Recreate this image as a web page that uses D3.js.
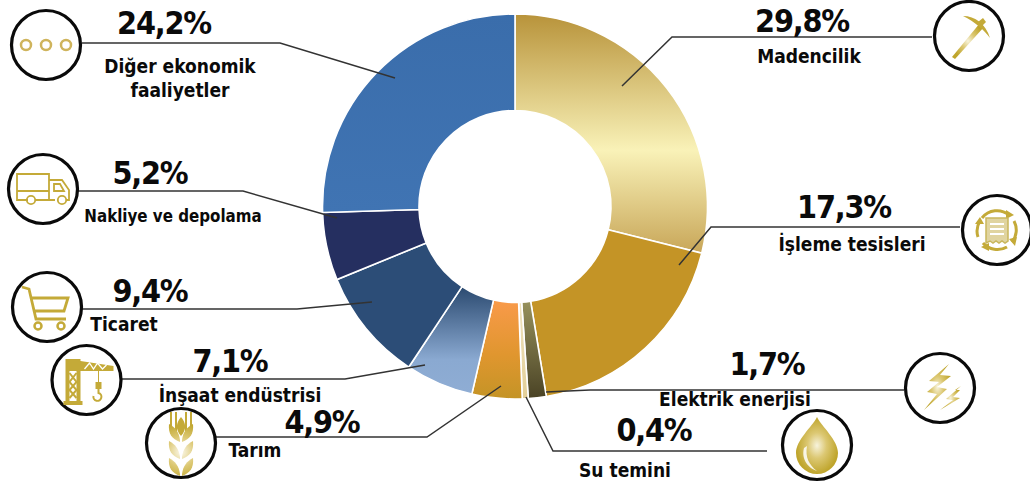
<!DOCTYPE html>
<html lang="tr"><head><meta charset="utf-8">
<script src="https://cdnjs.cloudflare.com/ajax/libs/d3/7.8.5/d3.min.js"></script>
<style>html,body{margin:0;padding:0;background:#fff}svg{display:block}
text{font-family:"DejaVu Sans",sans-serif;font-stretch:condensed;font-weight:700;fill:#0a0a0a}
.pct{font-size:32px;letter-spacing:-1.2px}</style></head><body>
<svg id="c" width="1030" height="487"></svg>
<script>
const sectors=["Madencilik","İşleme tesisleri","Elektrik enerjisi","Su temini","Tarım","İnşaat endüstrisi","Ticaret","Nakliye ve depolama","Diğer ekonomik faaliyetler"];
const shareLabels=["29,8%","17,3%","1,7%","0,4%","4,9%","7,1%","9,4%","5,2%","24,2%"];
// slice sizes as drawn in the picture (they differ slightly from the printed figures)
const drawnShares=[28.9,18.5,1.5,0.5,4.2,5.7,9.5,5.7,25.5];
const sliceStops=[
 [["0","#b8933a"],["0.57","#f9f2b8"],["1","#c8a658"]],
 [["0","#c49426"],["1","#c49426"]],
 [["0","#97915c"],["1","#4a4325"]],
 [["0","#efe3bd"],["1","#e3cf98"]],
 [["0","#f99a4a"],["0.55","#e0962f"],["1","#c49426"]],
 [["0","#2b4a70"],["0.68","#8aa9d1"],["1","#8fadd4"]],
 [["0","#2c4d77"],["1","#2c4d77"]],
 [["0","#252f60"],["1","#252f60"]],
 [["0","#3a6dab"],["1","#4074b3"]]];
const nameLines=[["Madencilik"],["İşleme tesisleri"],["Elektrik enerjisi"],["Su temini"],["Tarım"],["İnşaat endüstrisi"],["Ticaret"],["Nakliye ve depolama"],["Diğer ekonomik","faaliyetler"]];
// annotation layout: leader path, value label, name label(s), icon
const layout=[
 {line:[[622,86],[672,37],[932,37]],pct:[802,32],lab:[[809,63]],size:19,icon:[969,36],kind:"pick"},
 {line:[[679,265],[711,227],[960,227]],pct:[844,218],lab:[[852,251]],size:19,icon:[997,230],kind:"cycle"},
 {line:[[546,392],[590,390],[904,390]],pct:[767,375],lab:[[735,406]],size:19,icon:[940,388],kind:"bolt"},
 {line:[[526,397],[553,451],[767,451]],pct:[654,441],lab:[[625,477]],size:19,icon:[817,445],kind:"drop"},
 {line:[[501,386],[427,437],[216,437]],pct:[322,433],lab:[[255,457]],size:19,icon:[181,443],kind:"wheat"},
 {line:[[425,365],[345,379],[122,379]],pct:[230,372],lab:[[240,402]],size:19,icon:[86.5,380],kind:"crane"},
 {line:[[372,302],[297,309],[82,309]],pct:[150,302],lab:[[124,331]],size:19,icon:[47,307],kind:"cart"},
 {line:[[337,218],[243,191],[78,191]],pct:[150,184],lab:[[173,222]],size:16.8,icon:[43,189],kind:"truck"},
 {line:[[395,78],[280,43],[82,43]],pct:[164,34],lab:[[180,73],[180,97]],size:19,icon:[46,45],kind:"dots"}];

const svg=d3.select("#c"),defs=svg.append("defs");
const cx=515,cy=206.5,R=192.5,r=96;
const slices=d3.pie().sort(null)(drawnShares);
sliceStops.forEach((st,i)=>{
 const p=slices[i];
 const a=d3.range(p.startAngle,p.endAngle,0.01).concat([p.endAngle]);
 const ys=a.flatMap(t=>[-R*Math.cos(t),-r*Math.cos(t)]);
 const g=defs.append("linearGradient").attr("id","s"+i).attr("gradientUnits","userSpaceOnUse")
  .attr("x1",0).attr("x2",0).attr("y1",d3.min(ys)).attr("y2",d3.max(ys));
 st.forEach(s=>g.append("stop").attr("offset",s[0]).attr("stop-color",s[1]));
});
const gold=defs.append("radialGradient").attr("id","gold");
[["0","#f7f3dc"],["0.45","#dcc873"],["1","#bfa52c"]].forEach(s=>gold.append("stop").attr("offset",s[0]).attr("stop-color",s[1]));
const wheatGold=defs.append("radialGradient").attr("id","wheatGold").attr("gradientUnits","userSpaceOnUse").attr("cx",0).attr("cy",9).attr("r",30);
[["0","#fbf8ea"],["0.5","#dcc873"],["1","#bfa52c"]].forEach(s=>wheatGold.append("stop").attr("offset",s[0]).attr("stop-color",s[1]));

const arc=d3.arc().innerRadius(r).outerRadius(R);
svg.append("g").attr("transform",`translate(${cx},${cy})`).selectAll("path")
 .data(slices).join("path").attr("d",arc)
 .attr("fill",(d,i)=>`url(#s${i})`).attr("stroke","#fff").attr("stroke-width",1.6);

const lineGen=d3.line();
svg.append("g").selectAll("path").data(layout).join("path")
 .attr("d",d=>lineGen(d.line)).attr("fill","none").attr("stroke","#333").attr("stroke-width",1.5);

svg.append("g").selectAll("text").data(layout).join("text").attr("class","pct")
 .attr("text-anchor","middle").attr("x",d=>d.pct[0]).attr("y",d=>d.pct[1]).text((d,i)=>shareLabels[i]);
layout.forEach((d,i)=>d.lab.forEach((p,j)=>{
 svg.append("text").style("font-size",d.size+"px").attr("text-anchor","middle").attr("x",p[0]).attr("y",p[1]).text(nameLines[i][j]);
}));

const G="url(#gold)",S="#c4aa38",W="url(#wheatGold)";
const rings=(g,data,cy,rad,sw,col)=>g.selectAll("circle.m").data(data).join("circle").attr("class","m").attr("cx",x=>x).attr("cy",cy).attr("r",rad).attr("fill","none").attr("stroke",col).attr("stroke-width",sw);
const icons={
 pick(g){g.append("path").attr("d","M-17 21L11-13L15-9L-14 23Z").attr("fill",G);
  g.append("path").attr("d","M-6-20C6-20 17-12 21 2C15-6 6-14-6-20Z").attr("fill",S);
  g.append("path").attr("d","M9-14L14-18L17-14L13-10Z").attr("fill",S);},
 cycle(g){g.append("path").attr("d","M-15-12A19 19 0 0 1 12-15M17-9A19 19 0 0 1 15 12M10 17A19 19 0 0 1-14 13M-19 7A19 19 0 0 1-17-9").attr("fill","none").attr("stroke",S).attr("stroke-width",3);
  g.append("path").attr("d","M9-20L17-15L9-11ZM12 9L20 7L18 16ZM-8 13L-16 17L-8 21ZM-22-6L-17-13L-13-6Z").attr("fill",S);
  g.append("path").attr("d","M-11-12H11V11L8 13L5 11L2 13L-1 11L-4 13L-7 11L-11 13Z").attr("fill","#e0d4a0").attr("stroke","#c9b65c").attr("stroke-width",1.5);
  g.selectAll("path.b").data([-6,-1,4]).join("path").attr("class","b").attr("d",y=>`M-7 ${y}H7`).attr("stroke","#fff").attr("stroke-width",2);},
 bolt(g){g.append("path").attr("d","M9-24L-11-7L-1-6L-13 4L-3 6L-16 22L7 1L-3-1L11-12L0-13Z").attr("fill",G);
  g.append("path").attr("d","M21-2L6 11L13 12L0 22L20 10L13 9L20 2L15 2Z").attr("fill",G);},
 drop(g){g.append("path").attr("d","M0-28C5-18 21-5 21 8A21 21 0 0 1-21 8C-21-5-5-18 0-28Z").attr("fill",G);
  g.append("path").attr("d","M-13 3C-16 14-9 23 0 26C-8 20-12 12-10 1Z").attr("fill","#fff").attr("opacity",.85);},
 wheat(g){
  [-10,-5,5,10].forEach(x=>g.append("path").attr("d",`M${x} -31V-10`).attr("stroke",S).attr("stroke-width",2));
  g.append("path").attr("d","M0-26C5-20 6-14 0-7C-6-14-5-20 0-26Z").attr("fill",S);
  [-3,14,31].forEach(y=>{
   g.append("path").attr("d",`M-1 ${y}C-2 ${y-8}-6 ${y-13}-12 ${y-16}C-13 ${y-6}-9 ${y-1}-1 ${y+2}Z`).attr("fill",W);
   g.append("path").attr("d",`M1 ${y}C2 ${y-8} 6 ${y-13} 12 ${y-16}C13 ${y-6} 9 ${y-1} 1 ${y+2}Z`).attr("fill",W);});},
 crane(g){g.append("path").attr("d","M-23 21H-4V25H-23ZM-21-21H-6V21H-10V-9H-17V21H-21ZM-6-19L27-14V-9H-6Z").attr("fill",S);
  g.append("path").attr("d","M-17-7L-10 2L-17 10L-10 18M-10-7L-17 2L-10 10L-17 18").attr("stroke",S).attr("stroke-width",2).attr("fill","none");
  g.append("path").attr("d","M-2-11L3-17L7-11L11-17L16-11L20-15").attr("stroke","#fff").attr("stroke-width",1.3).attr("fill","none");
  g.append("path").attr("d","M12-9V2").attr("stroke",S).attr("stroke-width",1);
  g.append("path").attr("d","M9 2H15V9H9Z").attr("fill",S);
  g.append("path").attr("d","M12 9V13A4 4 0 1 1 7 16").attr("fill","none").attr("stroke",S).attr("stroke-width",2);},
 cart(g){g.append("path").attr("d","M-25-20L-18-18L-11 12H19M-15-9H21L17 4H-12").attr("fill","none").attr("stroke",S).attr("stroke-width",2.8);
  rings(g,[-9,14],19,3.5,2.5,S);},
 truck(g){g.append("path").attr("d","M-15 11H-26V-15H6V11H-8M-26 2H6M12 11H6M6-9H19L26 1V11H23M11-5H17L21 2H11Z").attr("fill","none").attr("stroke",S).attr("stroke-width",1.8);
  rings(g,[-12,19],11,4.2,1.8,S);},
 dots(g){rings(g,[-20,0,20],0,5,2.5,"#cfb45c");}
};
layout.forEach(d=>{
 const g=svg.append("g").attr("transform",`translate(${d.icon})`);
 g.append("circle").attr("r",34.5).attr("fill","#fff").attr("stroke","#0a0a0a").attr("stroke-width",3.2);
 icons[d.kind](g);
});
</script></body></html>
